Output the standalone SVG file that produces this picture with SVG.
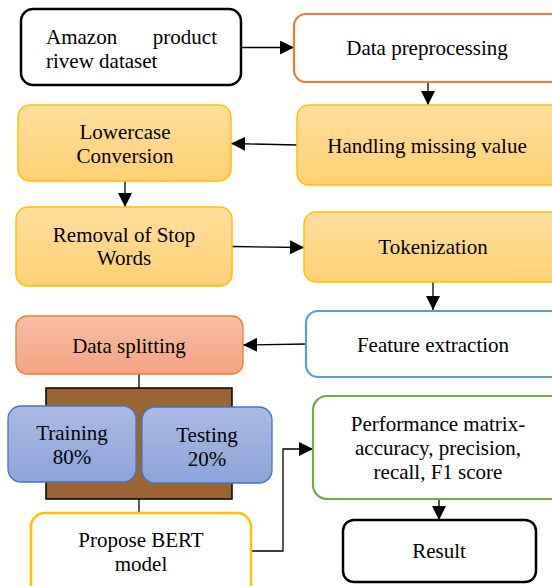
<svg xmlns="http://www.w3.org/2000/svg" width="552" height="586" viewBox="0 0 552 586">
  <style>
    text { font-family: "Liberation Serif", "Times New Roman", serif; font-size: 21px; fill: #000; }
    .c { text-anchor: middle; }
    .edge { fill: none; stroke: #000; stroke-width: 1.3; }
  </style>
  <defs>
    <linearGradient id="gYellow" x1="0" y1="0" x2="0" y2="1">
      <stop offset="0" stop-color="#FFDE9E"/>
      <stop offset="1" stop-color="#FFD172"/>
    </linearGradient>
    <linearGradient id="gSalmon" x1="0" y1="0" x2="0" y2="1">
      <stop offset="0" stop-color="#F6BEA6"/>
      <stop offset="1" stop-color="#F4A582"/>
    </linearGradient>
    <linearGradient id="gBlue" x1="0" y1="0" x2="0" y2="1">
      <stop offset="0" stop-color="#ABBAE2"/>
      <stop offset="1" stop-color="#8CA4DA"/>
    </linearGradient>
    <marker id="arrow" markerUnits="userSpaceOnUse" markerWidth="14" markerHeight="14" viewBox="0 0 14 14" refX="14" refY="7" orient="auto">
      <path d="M0,0 L14,7 L0,14 Z" fill="#000"/>
    </marker>
  </defs>

  <!-- connectors -->
  <g id="connectors">
    <line class="edge" x1="241" y1="47.5" x2="294" y2="47.5" marker-end="url(#arrow)"/>
    <line class="edge" x1="428" y1="82" x2="428" y2="105" marker-end="url(#arrow)"/>
    <line class="edge" x1="297" y1="145" x2="231" y2="143.5" marker-end="url(#arrow)"/>
    <line class="edge" x1="125" y1="181" x2="125" y2="207" marker-end="url(#arrow)"/>
    <line class="edge" x1="232" y1="246.5" x2="304" y2="247.5" marker-end="url(#arrow)"/>
    <line class="edge" x1="433" y1="282" x2="433" y2="310" marker-end="url(#arrow)"/>
    <line class="edge" x1="306" y1="344" x2="243" y2="345" marker-end="url(#arrow)"/>
    <line class="edge" x1="139" y1="374" x2="139" y2="388"/>
    <line class="edge" x1="139" y1="499" x2="139" y2="513"/>
    <polyline class="edge" points="251,551 283,551 283,449 313,449" marker-end="url(#arrow)"/>
    <line class="edge" x1="439" y1="499" x2="439" y2="520" marker-end="url(#arrow)"/>
  </g>

  <!-- nodes -->
  <g id="amazon-dataset">
    <rect x="21" y="9" width="220" height="76" rx="12" fill="#fff" stroke="#000" stroke-width="2.5"/>
    <text x="46" y="44">Amazon</text>
    <text x="217" y="44" text-anchor="end">product</text>
    <text x="46" y="68">rivew dataset</text>
  </g>

  <g id="data-preprocessing">
    <rect x="294" y="14" width="270" height="68" rx="12" fill="#fff" stroke="#ED7D31" stroke-width="2.2"/>
    <text class="c" x="427" y="55">Data preprocessing</text>
  </g>

  <g id="handling-missing">
    <rect x="297" y="105" width="270" height="80" rx="12" fill="url(#gYellow)" stroke="#FFC000" stroke-width="1.5"/>
    <text class="c" x="427" y="153">Handling missing value</text>
  </g>

  <g id="lowercase">
    <rect x="18" y="105" width="213" height="76" rx="12" fill="url(#gYellow)" stroke="#FFC000" stroke-width="1.5"/>
    <text class="c" x="125" y="139">Lowercase</text>
    <text class="c" x="125" y="163">Conversion</text>
  </g>

  <g id="stop-words">
    <rect x="16" y="207" width="216" height="79" rx="12" fill="url(#gYellow)" stroke="#FFC000" stroke-width="1.5"/>
    <text class="c" x="124" y="242">Removal of Stop</text>
    <text class="c" x="124" y="265">Words</text>
  </g>

  <g id="tokenization">
    <rect x="304" y="212" width="262" height="70" rx="12" fill="url(#gYellow)" stroke="#FFC000" stroke-width="1.5"/>
    <text class="c" x="433" y="254">Tokenization</text>
  </g>

  <g id="feature-extraction">
    <rect x="306" y="311" width="260" height="66" rx="12" fill="#fff" stroke="#5B9BD5" stroke-width="2.2"/>
    <text class="c" x="433" y="352">Feature extraction</text>
  </g>

  <g id="data-splitting">
    <rect x="16" y="316" width="227" height="58" rx="11" fill="url(#gSalmon)" stroke="#ED7D31" stroke-width="1.3"/>
    <text class="c" x="129" y="353">Data splitting</text>
  </g>

  <g id="split-frame">
    <rect x="46" y="388" width="186" height="111" fill="#9A6533" stroke="#000" stroke-width="1.5"/>
  </g>

  <g id="training">
    <rect x="8" y="406" width="128" height="76" rx="13" fill="url(#gBlue)" stroke="#4472C4" stroke-width="1.3"/>
    <text class="c" x="72" y="440">Training</text>
    <text class="c" x="72" y="464">80%</text>
  </g>

  <g id="testing">
    <rect x="142" y="407" width="130" height="76" rx="13" fill="url(#gBlue)" stroke="#4472C4" stroke-width="1.3"/>
    <text class="c" x="207" y="442">Testing</text>
    <text class="c" x="207" y="466">20%</text>
  </g>

  <g id="bert-model">
    <rect x="31" y="513" width="220" height="90" rx="14" fill="#fff" stroke="#FFC000" stroke-width="2.5"/>
    <text class="c" x="141" y="547">Propose BERT</text>
    <text class="c" x="141" y="571">model</text>
  </g>

  <g id="performance">
    <rect x="313" y="396" width="252" height="103" rx="14" fill="#fff" stroke="#70AD47" stroke-width="2.2"/>
    <text class="c" x="438" y="431">Performance matrix-</text>
    <text class="c" x="438" y="455">accuracy, precision,</text>
    <text class="c" x="438" y="479">recall, F1 score</text>
  </g>

  <g id="result">
    <rect x="343" y="520" width="193" height="62" rx="11" fill="#fff" stroke="#000" stroke-width="2.5"/>
    <text class="c" x="439" y="558">Result</text>
  </g>
</svg>
